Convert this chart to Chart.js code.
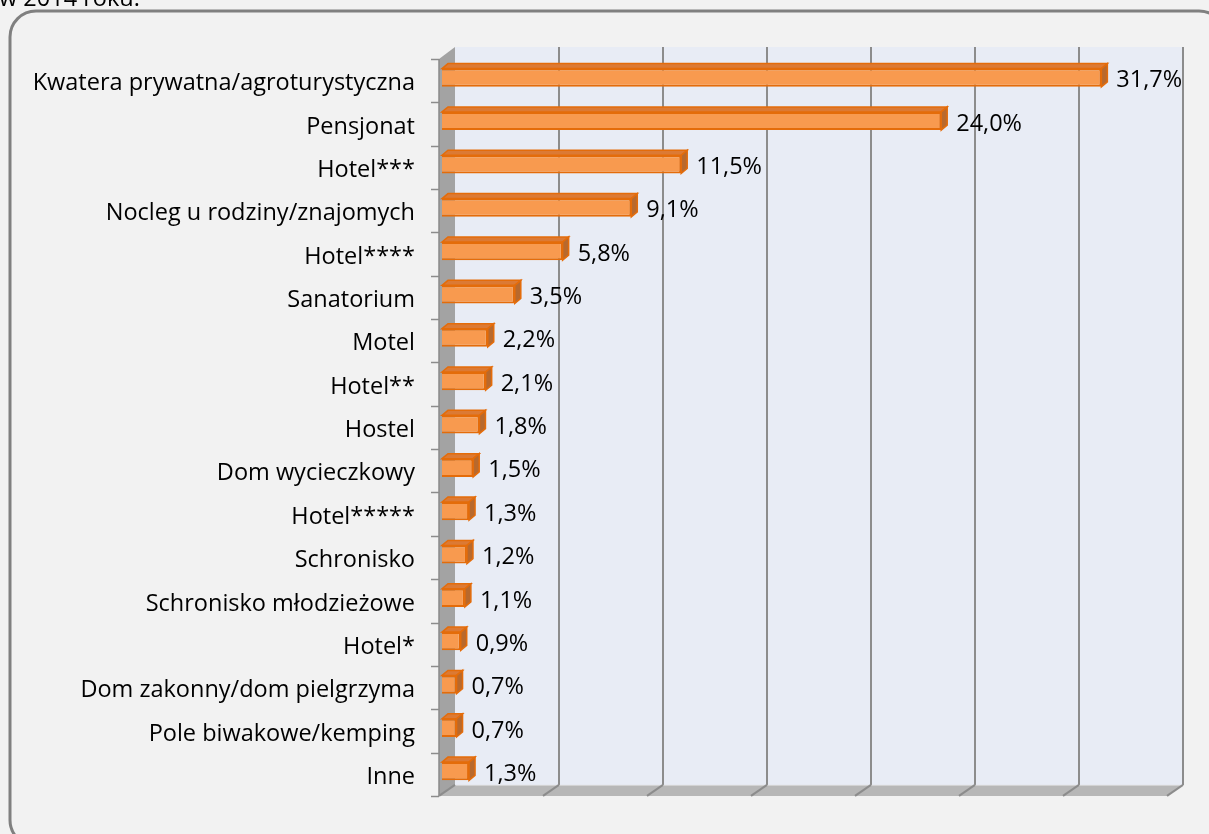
<!DOCTYPE html>
<html lang="pl">
<head>
    <meta charset="UTF-8">
    <title>Rodzaj zakwaterowania</title>
    <script src="https://cdn.jsdelivr.net/npm/chart.js"></script>
    <style>
        html, body { margin: 0; padding: 0; background: #f2f2f2; }
        #wrap { position: relative; width: 1209px; height: 834px; overflow: hidden; }
    </style>
</head>
<body>
    <div id="wrap">
        <canvas id="accommodationChart" width="1209" height="834"></canvas>
    </div>

    <script>
        // Accommodation type shares (%)
        const categories = [
            'Kwatera prywatna/agroturystyczna',
            'Pensjonat',
            'Hotel***',
            'Nocleg u rodziny/znajomych',
            'Hotel****',
            'Sanatorium',
            'Motel',
            'Hotel**',
            'Hostel',
            'Dom wycieczkowy',
            'Hotel*****',
            'Schronisko',
            'Schronisko młodzieżowe',
            'Hotel*',
            'Dom zakonny/dom pielgrzyma',
            'Pole biwakowe/kemping',
            'Inne'
        ];
        const shares = [31.7, 24.0, 11.5, 9.1, 5.8, 3.5, 2.2, 2.1, 1.8, 1.5, 1.3, 1.2, 1.1, 0.9, 0.7, 0.7, 1.3];
        const gridValues = [0, 5, 10, 15, 20, 25, 30, 35];
        const headingText = 'w 2014 roku.';

        const FONT_FAMILY = '"Open Sans"';
        const FONT_SIZE = 23.5;
        const FONT = FONT_SIZE + 'px ' + FONT_FAMILY;

        // 3D depth of the walls/floor relative to the bar plane
        const BACK_DX = 13, BACK_DY = -9;
        const FRONT_DX = -3, FRONT_DY = 3;
        // depth of each bar
        const BAR_DX = 6, BAR_DY = 5;

        const fmt = v => v.toFixed(1).replace('.', ',') + '%';

        const framePlugin = {
            id: 'frame',
            beforeDraw(chart) {
                const ctx = chart.ctx;
                ctx.save();
                ctx.fillStyle = '#f2f2f2';
                ctx.fillRect(0, 0, chart.width, chart.height);

                ctx.fillStyle = '#000';
                ctx.font = FONT;
                ctx.textBaseline = 'alphabetic';
                ctx.fillText(headingText, -1, 6);

                // rounded border around the chart
                ctx.strokeStyle = '#808080';
                ctx.lineWidth = 3;
                ctx.beginPath();
                ctx.roundRect(10, 11, 1215, 835, 26);
                ctx.stroke();
                ctx.restore();
            }
        };

        const wallsPlugin = {
            id: 'walls',
            beforeDatasetsDraw(chart) {
                const ctx = chart.ctx;
                const xs = chart.scales.x, ys = chart.scales.y;
                const {top, bottom} = chart.chartArea;
                const x0 = xs.getPixelForValue(0);
                const x1 = xs.getPixelForValue(gridValues[gridValues.length - 1]);

                const backTop = top + BACK_DY, backBottom = bottom + BACK_DY + 1;
                const frontTop = top + FRONT_DY, frontBottom = bottom + FRONT_DY;

                ctx.save();
                // back wall
                ctx.fillStyle = '#e8ecf5';
                ctx.fillRect(x0 + BACK_DX, backTop, x1 - x0, backBottom - backTop);

                // gridlines on the back wall
                ctx.strokeStyle = '#8c8c8c';
                ctx.lineWidth = 2;
                gridValues.forEach(v => {
                    const gx = xs.getPixelForValue(v) + BACK_DX;
                    if (v === 0) return;
                    ctx.beginPath();
                    ctx.moveTo(gx, backTop);
                    ctx.lineTo(gx, backBottom);
                    ctx.stroke();
                });

                // side wall
                ctx.fillStyle = '#a3a3a3';
                ctx.beginPath();
                ctx.moveTo(x0 + FRONT_DX, frontTop);
                ctx.lineTo(x0 + BACK_DX, backTop);
                ctx.lineTo(x0 + BACK_DX, backBottom);
                ctx.lineTo(x0 + FRONT_DX, frontBottom);
                ctx.closePath();
                ctx.fill();
                ctx.strokeStyle = '#8a8a8a';
                ctx.lineWidth = 1.5;
                ctx.beginPath();
                ctx.moveTo(x0 + FRONT_DX, frontTop);
                ctx.lineTo(x0 + FRONT_DX, frontBottom);
                ctx.stroke();

                // floor
                ctx.fillStyle = '#b7b7b7';
                ctx.beginPath();
                ctx.moveTo(x0 + FRONT_DX, frontBottom);
                ctx.lineTo(x0 + BACK_DX, backBottom);
                ctx.lineTo(x1 + BACK_DX, backBottom);
                ctx.lineTo(x1 + FRONT_DX, frontBottom);
                ctx.closePath();
                ctx.fill();
                ctx.strokeStyle = '#d6d6d6';
                ctx.lineWidth = 1;
                ctx.beginPath();
                ctx.moveTo(x0 + BACK_DX, backBottom + 0.5);
                ctx.lineTo(x1 + BACK_DX, backBottom + 0.5);
                ctx.stroke();

                // diagonal ticks on the floor
                ctx.strokeStyle = '#8c8c8c';
                ctx.lineWidth = 2;
                gridValues.forEach(v => {
                    const gx = xs.getPixelForValue(v);
                    ctx.beginPath();
                    ctx.moveTo(gx + FRONT_DX, frontBottom);
                    ctx.lineTo(gx + BACK_DX, backBottom);
                    ctx.stroke();
                });

                // category tick marks on the front axis
                ctx.strokeStyle = '#8c8c8c';
                ctx.lineWidth = 1.5;
                for (let i = 0; i <= categories.length; i++) {
                    const ty = Math.round(ys.getPixelForValue(i - 0.5) + FRONT_DY) + 0.5;
                    ctx.beginPath();
                    ctx.moveTo(x0 + FRONT_DX - 8, ty);
                    ctx.lineTo(x0 + FRONT_DX, ty);
                    ctx.stroke();
                }
                ctx.restore();
            }
        };

        const bar3dPlugin = {
            id: 'bar3d',
            afterDatasetsDraw(chart) {
                const ctx = chart.ctx;
                const meta = chart.getDatasetMeta(0);
                ctx.save();
                meta.data.forEach((el, i) => {
                    const {x, y, base, height} = el.getProps(['x', 'y', 'base', 'height'], true);
                    const t = y - height / 2, b = y + height / 2;

                    // top face
                    ctx.fillStyle = '#dc7a34';
                    ctx.strokeStyle = '#e46c0a';
                    ctx.lineWidth = 1.5;
                    ctx.beginPath();
                    ctx.moveTo(base, t);
                    ctx.lineTo(base + BAR_DX, t - BAR_DY);
                    ctx.lineTo(x + BAR_DX, t - BAR_DY);
                    ctx.lineTo(x, t);
                    ctx.closePath();
                    ctx.fill();
                    ctx.stroke();

                    // right side face
                    ctx.fillStyle = '#b8692d';
                    ctx.beginPath();
                    ctx.moveTo(x, t);
                    ctx.lineTo(x + BAR_DX, t - BAR_DY);
                    ctx.lineTo(x + BAR_DX, b - BAR_DY);
                    ctx.lineTo(x, b);
                    ctx.closePath();
                    ctx.fill();
                    ctx.stroke();

                    // value label
                    ctx.fillStyle = '#000';
                    ctx.font = FONT;
                    ctx.textAlign = 'left';
                    ctx.textBaseline = 'middle';
                    ctx.fillText(fmt(shares[i]), x + 15, y + 3);
                });
                ctx.restore();
            }
        };

        new Chart(document.getElementById('accommodationChart'), {
            type: 'bar',
            data: {
                labels: categories,
                datasets: [{
                    data: shares,
                    backgroundColor: '#f89a4f',
                    borderColor: '#e46c0a',
                    borderWidth: 2,
                    barPercentage: 0.42,
                    categoryPercentage: 1
                }]
            },
            options: {
                indexAxis: 'y',
                responsive: false,
                animation: false,
                devicePixelRatio: 1,
                layout: {
                    padding: { left: 0, right: 39, top: 56, bottom: 34 }
                },
                plugins: {
                    legend: { display: false },
                    tooltip: { enabled: false }
                },
                scales: {
                    x: {
                        min: 0,
                        max: 35,
                        display: false
                    },
                    y: {
                        grid: { display: false, drawTicks: false },
                        border: { display: false },
                        ticks: {
                            autoSkip: false,
                            color: '#000',
                            font: { family: FONT_FAMILY, size: FONT_SIZE },
                            padding: 27,
                            labelOffset: 6
                        },
                        afterFit(scale) { scale.width = 442; }
                    }
                }
            },
            plugins: [framePlugin, wallsPlugin, bar3dPlugin]
        });
    </script>
</body>
</html>
